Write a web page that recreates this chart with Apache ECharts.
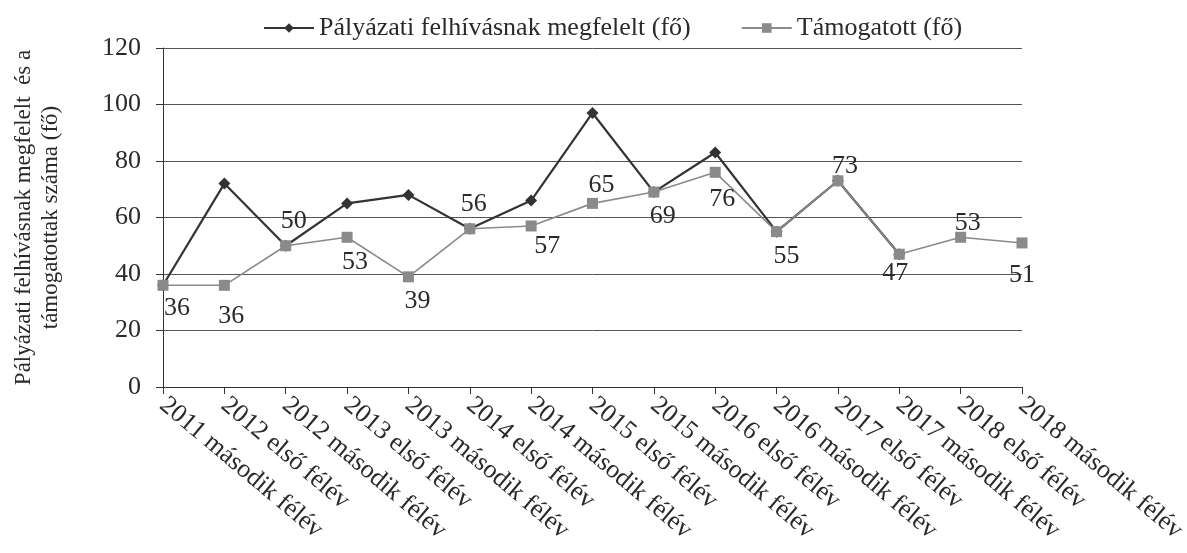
<!DOCTYPE html>
<html>
<head>
<meta charset="utf-8">
<script src="https://cdn.jsdelivr.net/npm/echarts@6/dist/echarts.min.js"></script>
<style>
html,body{margin:0;padding:0;background:#fff;}
#chart{width:1187px;height:553px;}
</style>
</head>
<body>
<div id="chart"></div>
<script>
const categories = [
  "2011 második félév", "2012 első félév", "2012 második félév", "2013 első félév",
  "2013 második félév", "2014 első félév", "2014 második félév", "2015 első félév",
  "2015 második félév", "2016 első félév", "2016 második félév", "2017 első félév",
  "2017 második félév", "2018 első félév", "2018 második félév"
];
const seriesNames = ["Pályázati felhívásnak megfelelt (fő)", "Támogatott (fő)"];
const eligible = [36, 72, 50, 65, 68, 56, 66, 97, 69, 83, 55, 73, 47, null, null];
const supported = [36, 36, 50, 53, 39, 56, 57, 65, 69, 76, 55, 73, 47, 53, 51];
const yTicks = { min: 0, max: 120, interval: 20 };
const yAxisName = "Pályázati felhívásnak megfelelt  és a\ntámogatottak száma (fő)";

// label placement for the supported series (style only)
const labelPlace = [
  ["bottom", [14, -4]], ["bottom", [7, 4]], ["top", [8, 2]], ["bottom", [8, -2]],
  ["bottom", [9, -2]], ["top", [4, 2]], ["bottom", [16, -6]], ["top", [9, 8]],
  ["bottom", [9, -2]], ["bottom", [7, 0]], ["bottom", [10, -2]], ["top", [7, 12]],
  ["bottom", [-4, -8]], ["top", [7, 12]], ["bottom", [0, 6]]
];

const FONT = "'Liberation Serif', 'Times New Roman', serif";
const chart = echarts.init(document.getElementById('chart'), null, { renderer: 'canvas' });

const supportedData = supported.map((v, i) => ({
  value: v,
  label: { position: labelPlace[i][0], offset: labelPlace[i][1] }
}));

chart.setOption({
  animation: false,
  backgroundColor: '#ffffff',
  textStyle: { fontFamily: FONT },
  legend: {
    left: 258, top: 10,
    itemWidth: 50, itemHeight: 12, itemGap: 50,
    textStyle: { fontFamily: FONT, fontSize: 26, color: '#2a2a2a' },
    data: seriesNames
  },
  grid: { left: 163, right: 165, top: 48, bottom: 166, containLabel: false, outerBoundsMode: 'none' },
  xAxis: {
    type: 'category',
    data: categories,
    boundaryGap: false,
    axisLine: { lineStyle: { color: '#333', width: 1 } },
    axisTick: { alignWithLabel: true, length: 7, lineStyle: { color: '#333' } },
    axisLabel: {
      rotate: -40, interval: 0, margin: 15,
      fontFamily: FONT, fontSize: 26, color: '#2a2a2a'
    },
    splitLine: { show: false }
  },
  yAxis: {
    type: 'value',
    min: yTicks.min, max: yTicks.max, interval: yTicks.interval,
    name: yAxisName,
    nameLocation: 'middle',
    nameGap: 99,
    nameRotate: 90,
    nameTextStyle: { fontFamily: FONT, fontSize: 23, color: '#2a2a2a', lineHeight: 27, align: 'center' },
    axisLine: { show: true, lineStyle: { color: '#333', width: 1 } },
    axisTick: { show: true, length: 7, lineStyle: { color: '#333' } },
    axisLabel: { fontFamily: FONT, fontSize: 26, color: '#2a2a2a', margin: 22 },
    splitLine: { lineStyle: { color: '#555', width: 1 } }
  },
  series: [
    {
      name: seriesNames[0],
      type: 'line',
      data: eligible,
      symbol: 'diamond',
      symbolSize: 12,
      connectNulls: false,
      itemStyle: { color: '#333333' },
      lineStyle: { color: '#333333', width: 2.2 },
      z: 2
    },
    {
      name: seriesNames[1],
      type: 'line',
      data: supportedData,
      symbol: 'rect',
      symbolSize: 11,
      itemStyle: { color: '#8a8a8a' },
      lineStyle: { color: '#8a8a8a', width: 1.6 },
      label: {
        show: true, distance: 8,
        fontFamily: FONT, fontSize: 26, color: '#2a2a2a'
      },
      z: 3
    }
  ]
});
</script>
</body>
</html>
